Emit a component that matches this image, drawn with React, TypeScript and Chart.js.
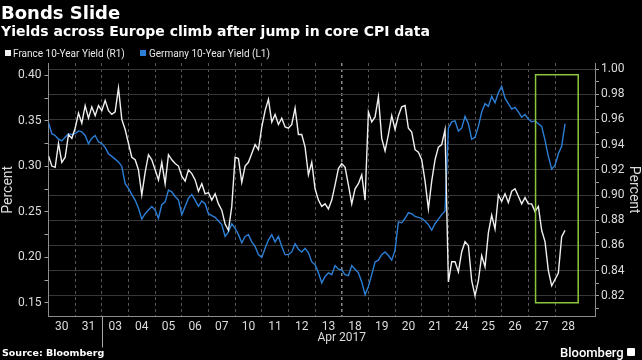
import React, { useEffect, useRef } from 'react';
import { Chart, registerables } from 'chart.js';

Chart.register(...registerables);

// ---- text ----
const titleText = 'Bonds Slide';
const subtitleText = 'Yields across Europe climb after jump in core CPI data';
const franceLabel = 'France 10-Year Yield (R1)';
const germanyLabel = 'Germany 10-Year Yield (L1)';
const axisTitle = 'Percent';
const sourceText = 'Source: Bloomberg';
const brandText = 'Bloomberg';
const monthLabel = 'Apr 2017';

// ---- categories (trading days) ----
const days = ['30', '31', '03', '04', '05', '06', '07', '10', '11', '12', '13', '18', '19', '20', '21', '24', '25', '26', '27', '28'];
const monthStartDay = 2; // first April session ("03")
const holidayGapDay = 11; // boundary between "13" and "18"
const samplesPerDay = 8;

// ---- series (intraday samples, 8 per session) ----
const franceYield = [
  0.931, 0.923, 0.922, 0.941, 0.926, 0.930, 0.948, 0.945, // 30
  0.953, 0.965, 0.957, 0.971, 0.961, 0.970, 0.963, 0.971, // 31
  0.967, 0.975, 0.967, 0.964, 0.966, 0.985, 0.960, 0.952, // 03
  0.941, 0.930, 0.928, 0.920, 0.900, 0.918, 0.932, 0.928, // 04
  0.920, 0.912, 0.926, 0.909, 0.932, 0.928, 0.925, 0.923, // 05
  0.915, 0.911, 0.920, 0.917, 0.912, 0.903, 0.909, 0.901, // 06
  0.902, 0.896, 0.901, 0.893, 0.888, 0.877, 0.872, 0.891, // 07
  0.930, 0.929, 0.910, 0.923, 0.926, 0.933, 0.940, 0.936, // 10
  0.954, 0.967, 0.976, 0.958, 0.964, 0.956, 0.961, 0.954, // 11
  0.953, 0.956, 0.969, 0.948, 0.948, 0.938, 0.916, 0.926, // 12
  0.905, 0.896, 0.891, 0.893, 0.889, 0.896, 0.908, 0.921, // 13
  0.925, 0.922, 0.908, 0.893, 0.905, 0.909, 0.916, 0.896, // 18
  0.966, 0.958, 0.962, 0.978, 0.945, 0.935, 0.948, 0.963, // 19
  0.952, 0.963, 0.970, 0.971, 0.953, 0.950, 0.936, 0.934, // 20
  0.928, 0.911, 0.889, 0.911, 0.928, 0.938, 0.940, 0.952, // 21
  0.831, 0.847, 0.847, 0.839, 0.855, 0.863, 0.860, 0.832, // 24
  0.820, 0.832, 0.852, 0.843, 0.870, 0.884, 0.873, 0.900, // 25
  0.895, 0.901, 0.894, 0.903, 0.905, 0.899, 0.893, 0.898, // 26
  0.893, 0.893, 0.887, 0.891, 0.872, 0.863, 0.840, 0.828, // 27
  0.833, 0.838, 0.867, 0.872, // 28
];

const germanyYield = [
  0.348, 0.336, 0.334, 0.330, 0.328, 0.332, 0.336, 0.335, // 30
  0.336, 0.339, 0.338, 0.334, 0.325, 0.331, 0.334, 0.327, // 31
  0.325, 0.321, 0.314, 0.311, 0.308, 0.305, 0.300, 0.281, // 03
  0.276, 0.269, 0.263, 0.254, 0.242, 0.248, 0.252, 0.256, // 04
  0.252, 0.243, 0.258, 0.261, 0.274, 0.272, 0.267, 0.263, // 05
  0.247, 0.256, 0.265, 0.269, 0.263, 0.256, 0.262, 0.259, // 06
  0.248, 0.246, 0.244, 0.240, 0.236, 0.223, 0.228, 0.237, // 07
  0.232, 0.225, 0.216, 0.223, 0.225, 0.217, 0.212, 0.203, // 10
  0.200, 0.210, 0.219, 0.225, 0.217, 0.223, 0.212, 0.203, // 11
  0.203, 0.206, 0.215, 0.209, 0.206, 0.210, 0.205, 0.195, // 12
  0.192, 0.183, 0.172, 0.179, 0.183, 0.181, 0.191, 0.187, // 13
  0.186, 0.181, 0.180, 0.191, 0.187, 0.183, 0.173, 0.159, // 18
  0.168, 0.181, 0.195, 0.197, 0.203, 0.206, 0.202, 0.197, // 19
  0.208, 0.239, 0.238, 0.243, 0.249, 0.248, 0.245, 0.244, // 20
  0.243, 0.240, 0.236, 0.230, 0.237, 0.242, 0.247, 0.251, // 21
  0.342, 0.349, 0.350, 0.339, 0.342, 0.355, 0.347, 0.330, // 24
  0.332, 0.344, 0.360, 0.369, 0.366, 0.377, 0.370, 0.381, // 25
  0.388, 0.375, 0.369, 0.363, 0.365, 0.360, 0.354, 0.357, // 26
  0.352, 0.349, 0.350, 0.347, 0.344, 0.329, 0.311, 0.297, // 27
  0.301, 0.314, 0.322, 0.347, // 28
];

// ---- axes ----
const leftTicks = [0.15, 0.175, 0.2, 0.225, 0.25, 0.275, 0.3, 0.325, 0.35, 0.375, 0.4];
const rightTicks = [0.81, 0.82, 0.83, 0.84, 0.85, 0.86, 0.87, 0.88, 0.89, 0.9, 0.91, 0.92, 0.93, 0.94, 0.95, 0.96, 0.97, 0.98, 0.99, 1.0];
const leftMin = 0.135;
const leftMax = 0.4137;
const rightMin = 0.8036;
const rightMax = 1.0048;
const xMax = 20.5;

// highlight box (x in sessions, y on the right-hand axis)
const highlightBox = { from: 18.27, to: 19.87, low: 0.8145, high: 0.9955 };

const WHITE = '#f0f0f0';
const BLUE = '#2c7fd6';
const GREEN = '#8cc63f';
const TEXT = '#dcdcdc';
const AXIS = '#8c8c8c';

const decor = {
  id: 'decor',
  afterDatasetsDraw(chart: any) {
    const { ctx, scales } = chart;
    const x = scales.x;
    const yR = scales.yR;
    const l = x.getPixelForValue(highlightBox.from);
    const r = x.getPixelForValue(highlightBox.to);
    const t = yR.getPixelForValue(highlightBox.high);
    const b = yR.getPixelForValue(highlightBox.low);
    ctx.save();
    ctx.strokeStyle = GREEN;
    ctx.lineWidth = 1.5;
    ctx.strokeRect(l, t, r - l, b - t);
    ctx.restore();
  },
  afterDraw(chart: any) {
    const { ctx, chartArea, scales } = chart;
    const x = scales.x;
    const sepX = Math.round(x.getPixelForValue(monthStartDay)) + 0.5;
    ctx.save();
    ctx.strokeStyle = '#a8a8a8';
    ctx.lineWidth = 1;
    ctx.beginPath();
    ctx.moveTo(sepX, chartArea.bottom);
    ctx.lineTo(sepX, chartArea.bottom + 31);
    ctx.stroke();
    ctx.fillStyle = TEXT;
    ctx.font = '12px Roboto';
    ctx.textAlign = 'center';
    ctx.textBaseline = 'alphabetic';
    const cx = (x.getPixelForValue(monthStartDay) + x.getPixelForValue(days.length)) / 2;
    ctx.fillText(monthLabel, cx, chartArea.bottom + 24.5);
    ctx.restore();
  },
};

export default function App() {
  const ref = useRef<HTMLCanvasElement>(null);

  useEffect(() => {
    const toPoints = (arr: number[]) =>
      arr.map((y, i) => ({ x: Math.floor(i / samplesPerDay) + (i % samplesPerDay) / samplesPerDay, y }));

    const tickFont = { family: 'Roboto', size: 12 };
    const chart = new Chart(ref.current as HTMLCanvasElement, {
      type: 'line',
      data: {
        datasets: [
          {
            label: franceLabel,
            data: toPoints(franceYield),
            yAxisID: 'yR',
            borderColor: WHITE,
            borderWidth: 1.4,
            pointRadius: 0,
            tension: 0,
          },
          {
            label: germanyLabel,
            data: toPoints(germanyYield),
            yAxisID: 'yL',
            borderColor: BLUE,
            borderWidth: 1.4,
            pointRadius: 0,
            tension: 0,
          },
        ],
      },
      options: {
        responsive: false,
        animation: false,
        devicePixelRatio: 1,
        layout: { padding: { top: 63, left: 0, right: 0, bottom: 0 } },
        plugins: {
          legend: { display: false },
          tooltip: { enabled: false },
          title: { display: false },
        },
        scales: {
          x: {
            type: 'linear',
            min: 0,
            max: xMax,
            afterBuildTicks: (s: any) => {
              const t = [];
              for (let k = 0; k <= days.length * 2; k++) t.push({ value: k / 2 });
              s.ticks = t;
            },
            afterFit: (s: any) => {
              s.height = 43.5;
            },
            ticks: {
              autoSkip: false,
              maxRotation: 0,
              minRotation: 0,
              padding: 3,
              color: TEXT,
              font: tickFont,
              callback: (v: any) => {
                const k = Number(v) - 0.5;
                return Number.isInteger(k) && days[k] !== undefined ? days[k] : '';
              },
            },
            grid: {
              drawTicks: false,
              lineWidth: (c: any) => (c.tick && c.tick.value === holidayGapDay ? 1.5 : 1),
              color: (c: any) => {
                const v = c.tick ? c.tick.value : -1;
                if (!Number.isInteger(v) || v <= 0 || v >= days.length) return 'transparent';
                return v === holidayGapDay ? '#8a8a8a' : '#555555';
              },
            },
            border: { color: AXIS, width: 1, dash: [3, 3] },
          },
          yL: {
            type: 'linear',
            position: 'left',
            min: leftMin,
            max: leftMax,
            afterBuildTicks: (s: any) => {
              s.ticks = leftTicks.map((value) => ({ value }));
            },
            afterFit: (s: any) => {
              s.width = 48.5;
            },
            ticks: {
              autoSkip: false,
              padding: 3,
              color: TEXT,
              font: tickFont,
              callback: (v: any) => {
                const n = Math.round(Number(v) * 1000);
                return n % 50 === 0 ? (n / 1000).toFixed(2) : '';
              },
            },
            grid: { drawOnChartArea: false, drawTicks: true, tickLength: 4, tickColor: '#a0a0a0' },
            border: { color: AXIS, width: 1 },
            title: {
              display: true,
              text: axisTitle,
              color: TEXT,
              font: { family: 'Roboto', size: 14 },
              padding: { top: 0, bottom: 0 },
            },
          },
          yR: {
            type: 'linear',
            position: 'right',
            min: rightMin,
            max: rightMax,
            afterBuildTicks: (s: any) => {
              s.ticks = rightTicks.map((value) => ({ value }));
            },
            afterFit: (s: any) => {
              s.width = 47;
            },
            ticks: {
              autoSkip: false,
              padding: 2,
              color: TEXT,
              font: tickFont,
              callback: (v: any) => {
                const n = Math.round(Number(v) * 100);
                return n % 2 === 0 ? (n / 100).toFixed(2) : '';
              },
            },
            grid: {
              drawOnChartArea: true,
              drawTicks: true,
              tickLength: 4,
              tickColor: '#a0a0a0',
              color: (c: any) => {
                const n = Math.round((c.tick ? c.tick.value : 0) * 100);
                return n % 2 === 0 ? '#383838' : 'transparent';
              },
            },
            border: { color: AXIS, width: 1 },
            title: {
              display: true,
              text: axisTitle,
              color: TEXT,
              font: { family: 'Roboto', size: 14 },
              padding: { top: 0, bottom: 2 },
            },
          },
        },
      },
      plugins: [decor],
    } as any);
    return () => chart.destroy();
  }, []);

  const abs = (s: React.CSSProperties): React.CSSProperties => ({ position: 'absolute', whiteSpace: 'nowrap', ...s });

  return (
    <div style={{ position: 'fixed', left: 0, top: 0, width: 642, height: 360, background: '#000', overflow: 'hidden' }}>
      <canvas ref={ref} width={642} height={360} style={{ position: 'absolute', left: 0, top: 0, width: 642, height: 360 }} />
      <div style={abs({ left: 1, top: 4, font: 'bold 18px/18px "DejaVu Sans"', color: '#ffffff' })}>{titleText}</div>
      <div style={abs({ left: 1, top: 24, font: 'bold 14px/14px "DejaVu Sans"', color: '#ffffff' })}>{subtitleText}</div>
      <div style={abs({ left: 5, top: 50, width: 6, height: 6, background: WHITE })} />
      <div style={abs({ left: 13, top: 49, font: '10px/10px Roboto', color: '#e8e8e8' })}>{franceLabel}</div>
      <div style={abs({ left: 140, top: 50, width: 6, height: 6, background: BLUE })} />
      <div style={abs({ left: 149, top: 49, font: '10px/10px Roboto', color: '#e8e8e8' })}>{germanyLabel}</div>
      <div style={abs({ left: 2, top: 348, font: 'bold 9.5px/9.5px "DejaVu Sans"', color: '#ffffff' })}>{sourceText}</div>
      <div style={abs({ left: 560, top: 346, font: '500 13px/13px Roboto', color: '#ffffff' })}>{brandText}</div>
      <div style={abs({ left: 627, top: 348, width: 8, height: 8, background: '#ffffff', borderRadius: 1 })} />
    </div>
  );
}
